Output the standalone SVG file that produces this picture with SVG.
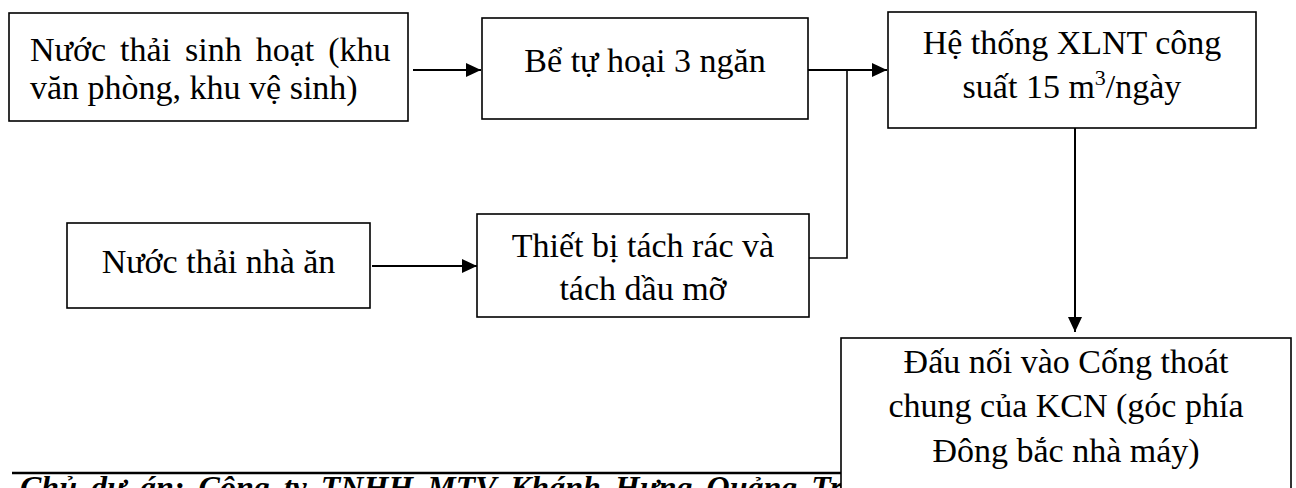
<svg xmlns="http://www.w3.org/2000/svg" width="1296" height="488" viewBox="0 0 1296 488">
<style>
.box{fill:#fff;stroke:#000;stroke-width:1.6}
.t{font-family:"Liberation Serif","Times New Roman",serif;font-size:34px;fill:#000}
.c{text-anchor:middle}
.ln{fill:none;stroke:#000;stroke-width:2}
.thin{fill:none;stroke:#000;stroke-width:1.6}
.foot{font-family:"Liberation Serif","Times New Roman",serif;font-size:32px;font-weight:bold;font-style:italic;fill:#000}
</style>
<defs>
<marker id="ah" markerUnits="userSpaceOnUse" markerWidth="15" markerHeight="14" refX="15" refY="7" orient="auto">
<path d="M0,0 L15,7 L0,14 z" fill="#000"/>
</marker>
</defs>
<g id="connectors">
<line class="ln" x1="413" y1="70" x2="481" y2="70" marker-end="url(#ah)"/>
<line class="ln" x1="808" y1="70" x2="887" y2="70" marker-end="url(#ah)"/>
<polyline class="thin" points="809,258 847,258 847,70"/>
<line class="ln" x1="372" y1="266" x2="477" y2="266" marker-end="url(#ah)"/>
<line class="ln" x1="1075" y1="128" x2="1075" y2="332" marker-end="url(#ah)"/>
</g>
<g id="n1">
<rect class="box" x="9" y="13" width="399" height="108"/>
<text class="t" x="30" y="61" word-spacing="5.5">Nước thải sinh hoạt (khu</text>
<text class="t" x="30" y="99">văn phòng, khu vệ sinh)</text>
</g>
<g id="n2">
<rect class="box" x="482" y="18" width="326" height="101"/>
<text class="t c" x="645" y="72">Bể tự hoại 3 ngăn</text>
</g>
<g id="n3">
<rect class="box" x="888" y="12" width="368" height="116"/>
<text class="t c" x="1072" y="54">Hệ thống XLNT công</text>
<text class="t c" x="1072" y="98">suất 15 m<tspan font-size="22" dy="-13">3</tspan><tspan dy="13">/ngày</tspan></text>
</g>
<g id="n4">
<rect class="box" x="67" y="223" width="303" height="85"/>
<text class="t c" x="218.5" y="273">Nước thải nhà ăn</text>
</g>
<g id="n5">
<rect class="box" x="477" y="214" width="332" height="103"/>
<text class="t c" x="643" y="257">Thiết bị tách rác và</text>
<text class="t c" x="643" y="300">tách dầu mỡ</text>
</g>
<g id="footer">
<line x1="12" y1="473" x2="841" y2="473" stroke="#000" stroke-width="2.5"/>
<text class="foot" x="20" y="498" word-spacing="6">Chủ dự án: Công ty TNHH MTV Khánh Hưng Quảng Trị</text>
</g>
<g id="n6">
<rect class="box" x="841" y="338" width="450" height="170"/>
<text class="t c" x="1066" y="373">Đấu nối vào Cống thoát</text>
<text class="t c" x="1066" y="417">chung của KCN (góc phía</text>
<text class="t c" x="1066" y="462">Đông bắc nhà máy)</text>
</g>
</svg>
